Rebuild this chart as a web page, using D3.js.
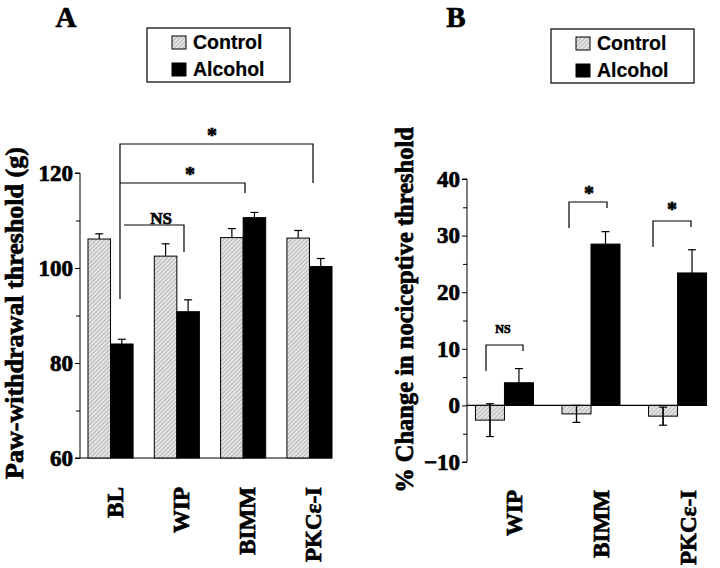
<!DOCTYPE html>
<html>
<head>
<meta charset="utf-8">
<script src="https://cdn.jsdelivr.net/npm/d3@7"></script>
<style>
body { margin: 0; background: #fff; }
svg text { font-family: "Liberation Serif", "Times New Roman", serif; font-weight: bold; stroke: #000; stroke-width: 0.7px; }
svg text.leg { font-family: "Liberation Sans", Arial, sans-serif; stroke-width: 0.2px; }
</style>
</head>
<body>
<svg id="chart" width="720" height="568"></svg>
<script>
// panel A data: paw-withdrawal threshold (g)
var groupsA = ["BL", "WIP", "BIMM", "PKCε-I"];
var controlA = [106.1, 102.5, 106.4, 106.3];
var controlErrA = [1.1, 2.6, 1.9, 1.6];
var alcoholA = [84.0, 90.8, 110.6, 100.3];
var alcoholErrA = [1.0, 2.5, 1.1, 1.7];
var ticksA = [60, 80, 100, 120];
var minorA = [70, 90, 110];

// panel B data: % change in nociceptive threshold
var groupsB = ["WIP", "BIMM", "PKCε-I"];
var controlB = [-2.6, -1.5, -1.9];
var controlErrB = [2.9, 1.5, 1.6];
var alcoholB = [4.0, 28.5, 23.4];
var alcoholErrB = [2.5, 2.2, 4.1];
var ticksB = [-10, 0, 10, 20, 30, 40];
var minorB = [-5, 5, 15, 25, 35];

var svg = d3.select("#chart");

// hatch for control bars
var defs = svg.append("defs");
var pat = defs.append("pattern").attr("id", "hatch").attr("patternUnits", "userSpaceOnUse")
    .attr("width", 3).attr("height", 3).attr("patternTransform", "rotate(45)");
pat.append("rect").attr("width", 3).attr("height", 3).attr("fill", "#e4e4e4");
pat.append("line").attr("x1", 0).attr("y1", 0).attr("x2", 0).attr("y2", 3)
    .attr("stroke", "#8a8a8a").attr("stroke-width", 1);

var drawLegend = function(x, y) {
    var g = svg.append("g").attr("transform", "translate(" + x + "," + y + ")");
    g.append("rect").attr("width", 143).attr("height", 54).attr("fill", "#fff").attr("stroke", "#000").attr("stroke-width", 1.2);
    g.append("rect").attr("x", 25).attr("y", 8).attr("width", 14).attr("height", 13).attr("fill", "url(#hatch)").attr("stroke", "#000");
    g.append("rect").attr("x", 25).attr("y", 35).attr("width", 14).attr("height", 13).attr("fill", "#000").attr("stroke", "#000");
    g.append("text").attr("class", "leg").attr("x", 46).attr("y", 21).attr("font-size", 19.5).text("Control");
    g.append("text").attr("class", "leg").attr("x", 46).attr("y", 48).attr("font-size", 19.5).text("Alcohol");
}

var errBar = function(g, x, y1, y2) {
    g.append("line").attr("x1", x).attr("x2", x).attr("y1", y1).attr("y2", y2).attr("stroke", "#000").attr("stroke-width", 1.2);
    g.append("line").attr("x1", x - 4).attr("x2", x + 4).attr("y1", y2).attr("y2", y2).attr("stroke", "#000").attr("stroke-width", 1.2);
}

var bracket = function(pts) {
    svg.append("path").attr("d", d3.line()(pts)).attr("fill", "none").attr("stroke", "#000").attr("stroke-width", 1.2);
}

// ---------- panel A ----------
var xA = d3.scaleBand().domain(groupsA).range([86, 334]).paddingInner(0.32).paddingOuter(0.03);
var yA = d3.scaleLinear().domain([60, 120]).range([458, 173]);
var gA = svg.append("g");

gA.append("g").attr("transform", "translate(80,0)")
    .call(d3.axisLeft(yA).tickValues(ticksA).tickSize(5).tickPadding(2).tickFormat(d3.format("d")))
    .call(function(a) { a.select(".domain").attr("d", "M-5," + yA(120) + "H0V" + yA(60)); })
    .selectAll("text").attr("font-size", 23);
gA.append("g").attr("transform", "translate(80,0)")
    .call(d3.axisLeft(yA).tickValues(minorA).tickSize(4).tickFormat(""))
    .select(".domain").remove();
gA.append("line").attr("x1", 75).attr("x2", 332).attr("y1", yA(60)).attr("y2", yA(60)).attr("stroke", "#000").attr("stroke-width", 1.2);

groupsA.forEach(function(gname, i) {
    var x0 = xA(gname), w = xA.bandwidth() / 2;
    gA.append("rect").attr("x", x0).attr("y", yA(controlA[i])).attr("width", w).attr("height", yA(60) - yA(controlA[i]))
        .attr("fill", "url(#hatch)").attr("stroke", "#000");
    gA.append("rect").attr("x", x0 + w).attr("y", yA(alcoholA[i])).attr("width", w).attr("height", yA(60) - yA(alcoholA[i]))
        .attr("fill", "#000").attr("stroke", "#000");
    errBar(gA, x0 + w / 2, yA(controlA[i]), yA(controlA[i] + controlErrA[i]));
    errBar(gA, x0 + w * 1.5, yA(alcoholA[i]), yA(alcoholA[i] + alcoholErrA[i]));
    gA.append("text").attr("transform", "translate(" + (x0 + w + 12) + ",487) rotate(-90)")
        .attr("text-anchor", "end").attr("font-size", 23).text(gname);
});

bracket([[120, 299], [120, 144], [313, 144], [313, 183]]);
bracket([[120, 183], [245, 183], [245, 193]]);
bracket([[124, 225], [184, 225], [184, 252]]);
svg.append("text").attr("x", 212).attr("y", 142).attr("text-anchor", "middle").attr("font-size", 20).text("*");
svg.append("text").attr("x", 190).attr("y", 181).attr("text-anchor", "middle").attr("font-size", 20).text("*");
svg.append("text").attr("x", 161).attr("y", 224).attr("text-anchor", "middle").attr("font-size", 17).text("NS");

svg.append("text").attr("transform", "translate(23,313) rotate(-90)").attr("text-anchor", "middle")
    .attr("font-size", 26).text("Paw-withdrawal threshold (g)");
svg.append("text").attr("x", 66).attr("y", 27).attr("text-anchor", "middle").attr("font-size", 29).text("A");
drawLegend(147, 28);

// ---------- panel B ----------
var xB = d3.scaleBand().domain(groupsB).range([472, 710]).paddingInner(0.33).paddingOuter(0.04);
var yB = d3.scaleLinear().domain([-10, 40]).range([462, 179]);
var gB = svg.append("g");

gB.append("g").attr("transform", "translate(467,0)")
    .call(d3.axisLeft(yB).tickValues(ticksB).tickSize(5).tickPadding(2).tickFormat(d3.format("d")))
    .call(function(a) { a.select(".domain").attr("d", "M-5," + yB(40) + "H0V" + yB(-10) + "H-5"); })
    .selectAll("text").attr("font-size", 23);
gB.append("g").attr("transform", "translate(467,0)")
    .call(d3.axisLeft(yB).tickValues(minorB).tickSize(4).tickFormat(""))
    .select(".domain").remove();
gB.append("line").attr("x1", 467).attr("x2", 707).attr("y1", yB(0)).attr("y2", yB(0)).attr("stroke", "#000").attr("stroke-width", 1.2);

groupsB.forEach(function(gname, i) {
    var x0 = xB(gname), w = xB.bandwidth() / 2;
    var c = controlB[i], a = alcoholB[i];
    gB.append("rect").attr("x", x0).attr("y", yB(Math.max(0, c))).attr("width", w).attr("height", Math.abs(yB(c) - yB(0)))
        .attr("fill", "url(#hatch)").attr("stroke", "#000");
    gB.append("rect").attr("x", x0 + w).attr("y", yB(Math.max(0, a))).attr("width", w).attr("height", Math.abs(yB(a) - yB(0)))
        .attr("fill", "#000").attr("stroke", "#000");
    errBar(gB, x0 + w / 2, yB(c + controlErrB[i]), yB(c - controlErrB[i]));
    errBar(gB, x0 + w / 2, yB(c - controlErrB[i]), yB(c + controlErrB[i]));
    errBar(gB, x0 + w * 1.5, yB(a), yB(a + alcoholErrB[i]));
    gB.append("text").attr("transform", "translate(" + (x0 + w + 18) + ",490) rotate(-90)")
        .attr("text-anchor", "end").attr("font-size", 23).text(gname);
});

bracket([[486, 371], [486, 345], [523, 345], [523, 351]]);
bracket([[569, 228], [569, 202], [607, 202], [607, 208]]);
bracket([[653, 247], [653, 221], [691, 221], [691, 227]]);
svg.append("text").attr("x", 503).attr("y", 333).attr("text-anchor", "middle").attr("font-size", 12).text("NS");
svg.append("text").attr("x", 589).attr("y", 200).attr("text-anchor", "middle").attr("font-size", 20).text("*");
svg.append("text").attr("x", 672).attr("y", 216).attr("text-anchor", "middle").attr("font-size", 20).text("*");

svg.append("text").attr("transform", "translate(413,310) rotate(-90)").attr("text-anchor", "middle")
    .attr("font-size", 24.5).text("% Change in nociceptive threshold");
svg.append("text").attr("x", 456).attr("y", 27).attr("text-anchor", "middle").attr("font-size", 29).text("B");
drawLegend(551, 29);
</script>
</body>
</html>
